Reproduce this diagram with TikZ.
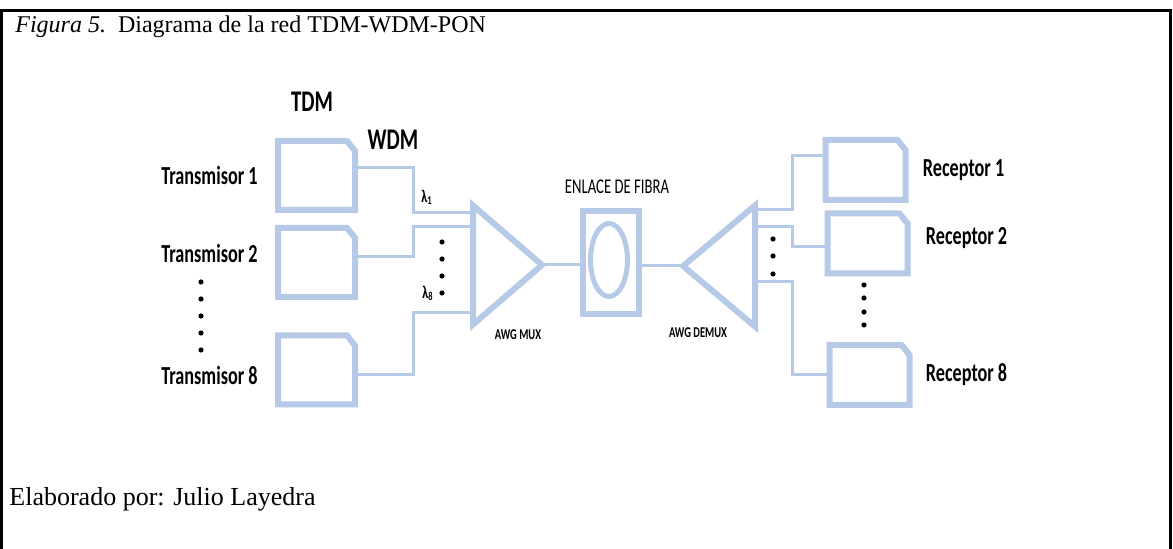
\documentclass[tikz,border=0pt]{standalone}
\usepackage{fontspec}
\setmainfont{Liberation Serif}
\newfontfamily\lblfont[FakeStretch=0.7]{Carlito}
\usepackage{xcolor}
\usetikzlibrary{positioning,calc,shapes.geometric}
\definecolor{ponblue}{RGB}{182,202,232}

\begin{document}
\begin{tikzpicture}[
    x=0.5pt, y=-0.5pt,
    unit/.style={
        inner sep=0pt,
        outer sep=0pt
    },
    txunit/.style={unit, minimum width=38.5pt, minimum height=34.5pt},
    rxunit/.style={unit, minimum width=40pt, minimum height=30pt},
    unitline/.style={draw=ponblue, line width=3pt},
    awg/.style={
        draw=ponblue,
        line width=3pt,
        isosceles triangle,
        isosceles triangle stretches,
        inner sep=0pt,
        outer sep=0pt
    },
    link/.style={draw=ponblue, line width=1.5pt},
    unitname/.style={font=\lblfont\fontsize{13}{15}\selectfont\bfseries, inner sep=0pt},
    tech/.style={font=\lblfont\fontsize{15}{17}\selectfont\bfseries, inner sep=0pt},
    lambda/.style={font=\lblfont\fontsize{9}{10}\selectfont\bfseries, inner sep=0pt},
    awgname/.style={font=\lblfont\fontsize{7.5}{8}\selectfont\bfseries, inner sep=0pt}
]
\useasboundingbox (0,0) rectangle (1173,549);

%---------------------------------------------------------------------
% Frame and captions
%---------------------------------------------------------------------

\draw[line width=1.5pt] (1.5,549) -- (1.5,10.5) -- (1170,10.5) -- (1170,549);
\node[anchor=base west, inner sep=0pt, font=\fontsize{12}{14}\selectfont] (titulo) at (15,33)
    {\textit{Figura 5.}\ \ Diagrama de la red TDM-WDM-PON};
\node[anchor=base west, inner sep=0pt, font=\fontsize{13}{15}\selectfont] (autor) at (9,506)
    {Elaborado por: Julio Layedra};

%---------------------------------------------------------------------
% Transmitters and receivers
%---------------------------------------------------------------------

\node[txunit] (t1) at (316.5,175.5) {};
\node[txunit] (t2) at (316.5,262.5) {};
\node[txunit] (t8) at (316.5,370) {};

\node[rxunit] (r1) at (865.5,170) {};
\node[rxunit] (r2) at (867.5,243.5) {};
\node[rxunit] (r8) at (869.5,375) {};

% boxes with the top right corner cut off
\foreach \u in {t1,t2,t8,r1,r2,r8}
    \draw[unitline] (\u.south west) -- (\u.north west) -- ([xshift=-4pt]\u.north east)
        -- ([yshift=-5pt]\u.north east) -- (\u.south east) -- cycle;

\node[unitname, left=10pt of t1] (t1name) {Transmisor 1};
\node[unitname, left=10pt of t2, yshift=4.75pt] (t2name) {Transmisor 2};
\node[unitname, left=10pt of t8, yshift=-2.5pt] (t8name) {Transmisor 8};

\node[unitname, right=8.5pt of r1] (r1name) {Receptor 1};
\node[unitname, right=9pt of r2, yshift=2.75pt] (r2name) {Receptor 2};
\node[unitname, right=8pt of r8] (r8name) {Receptor 8};

\node[tech] (tdm) at (312,102) {TDM};
\node[tech] (wdm) at (393,140) {WDM};

%---------------------------------------------------------------------
% AWG and fibre link
%---------------------------------------------------------------------

\node[awg, minimum height=34.5pt, minimum width=59.5pt, anchor=apex] (mux) at (542,265) {};
\node[awg, shape border rotate=180, minimum height=36pt, minimum width=60.5pt, anchor=apex] (demux) at (683,266) {};

\node[draw=ponblue, line width=3pt, minimum width=28pt, minimum height=51.5pt,
    inner sep=0pt, outer sep=0pt] (enlace) at (611,262.5) {};
\node[draw=ponblue, line width=2.5pt, ellipse, minimum width=18.5pt, minimum height=36.5pt,
    inner sep=0pt] (bobina) at (609,260) {};

\node[font=\lblfont\fontsize{10.5}{12}\selectfont, inner sep=0pt] (enlacename) at (617,187) {ENLACE DE FIBRA};
\node[awgname] (muxname) at (518,335) {AWG MUX};
\node[awgname] (demuxname) at (698,333) {AWG DEMUX};

\node[lambda] (l1) at (427,197) {λ\textsubscript{1}};
\node[lambda] (l8) at (428,293) {λ\textsubscript{8}};

%---------------------------------------------------------------------
% Connections
%---------------------------------------------------------------------

\coordinate (m1) at ($(mux.lower side)+(0,-52)$);
\coordinate (m2) at ($(mux.lower side)+(0,-38)$);
\coordinate (m3) at ($(mux.lower side)+(0,48)$);

\coordinate (d1) at ($(demux.lower side)+(0,-56)$);
\coordinate (d2) at ($(demux.lower side)+(0,-39)$);
\coordinate (d3) at ($(demux.lower side)+(0,16)$);

\draw[link] ([yshift=4pt]t1.east) -| ([xshift=-30pt]m1) -- (m1);
\draw[link] ([yshift=2.75pt]t2.east) -| ([xshift=-30pt]m2) -- (m2);
\draw[link] ([yshift=-2.5pt]t8.east) -| ([xshift=-30pt]m3) -- (m3);

\draw[link] (mux.apex) -- (mux.apex -| enlace.west);
\draw[link] (enlace.east |- demux.apex) -- (demux.apex);

\draw[link] (d1) -- ([xshift=18.5pt]d1) |- ([yshift=7pt]r1.west);
\draw[link] (d2) -- ([xshift=18.5pt]d2) |- ([yshift=-1.75pt]r2.west);
\draw[link] (d3) -- ([xshift=18.5pt]d3) |- (r8.west);

%---------------------------------------------------------------------
% Ellipsis dots
%---------------------------------------------------------------------

\foreach \y in {282,299,316,333,350} \fill (201,\y) circle (1.3pt);
\foreach \y in {242,259,276,293} \fill (442,\y) circle (1.3pt);
\foreach \y in {239,256,274} \fill (773,\y) circle (1.3pt);
\foreach \y in {285,298,312,325} \fill (864,\y) circle (1.3pt);

\end{tikzpicture}
\end{document}
